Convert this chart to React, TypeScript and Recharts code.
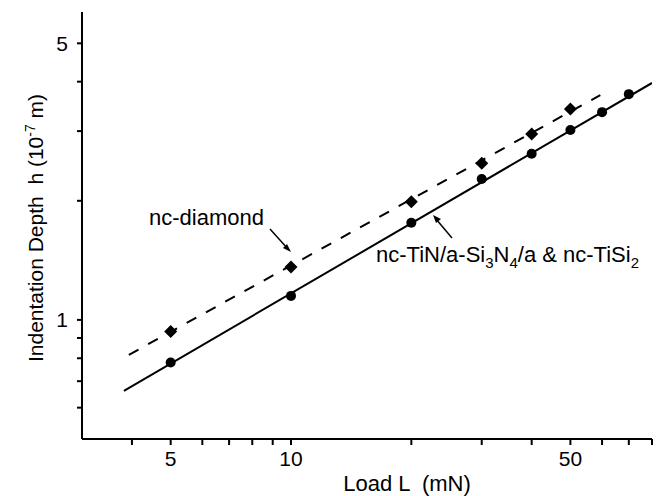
import React from 'react';
import { ComposedChart, Line, Scatter, XAxis, YAxis } from 'recharts';

// measured loads (mN) and indentation depths (10^-7 m)
const tinLoads = [5, 10, 20, 30, 40, 50, 60, 70];
const tinDepths = [0.78, 1.15, 1.76, 2.27, 2.63, 3.02, 3.35, 3.72];
const diamondLoads = [5, 10, 20, 30, 40, 50];
const diamondDepths = [0.934, 1.36, 1.99, 2.49, 2.95, 3.41];

// end points of the fitted power-law lines
const tinFitLoads = [3.82, 80];
const tinFitDepths = [0.662, 3.97];
const diamondFitLoads = [3.93, 59.4];
const diamondFitDepths = [0.816, 3.7];

const xTicks = [4, 5, 6, 7, 8, 9, 10, 20, 30, 40, 50, 60, 70, 80];
const xLabelled = [5, 10, 50];
const yTicks = [0.6, 0.7, 0.8, 0.9, 1, 2, 3, 4, 5];
const yLabelled = [1, 5];

const FONT = '"Liberation Sans", Arial, sans-serif';

const zip = (xs: number[], ys: number[]) => xs.map((x, i) => ({ x, y: ys[i] }));

const tinPoints = zip(tinLoads, tinDepths);
const diamondPoints = zip(diamondLoads, diamondDepths);
const tinFit = zip(tinFitLoads, tinFitDepths);
const diamondFit = zip(diamondFitLoads, diamondFitDepths);

const Dot = (p: any) => <circle cx={p.cx} cy={p.cy} r={5} fill="#000" />;
const Diamond = (p: any) => {
  const s = 6.5;
  return (
    <polygon
      points={`${p.cx},${p.cy - s} ${p.cx + s},${p.cy} ${p.cx},${p.cy + s} ${p.cx - s},${p.cy}`}
      fill="#000"
    />
  );
};

const axisLine = { stroke: '#000', strokeWidth: 2 };
const tickStyle = { fill: '#000', fontSize: 21, fontFamily: FONT };

export default function App() {
  return (
    <div style={{ position: 'absolute', left: 0, top: 0, width: 657, height: 496, background: '#fff' }}>
      <ComposedChart width={657} height={496} margin={{ top: 12, right: 5, bottom: 0, left: 0 }}>
        <XAxis
          dataKey="x"
          type="number"
          scale="log"
          domain={[3, 80]}
          allowDataOverflow
          ticks={xTicks}
          interval={0}
          height={57}
          tickSize={6}
          tickMargin={6}
          tickFormatter={(v: number) => (xLabelled.includes(v) ? String(v) : '')}
          axisLine={axisLine}
          tickLine={axisLine}
          tick={tickStyle}
        />
        <YAxis
          dataKey="y"
          type="number"
          scale="log"
          domain={[0.5, 6]}
          allowDataOverflow
          ticks={yTicks}
          interval={0}
          width={82}
          tickSize={5}
          tickMargin={9}
          tickFormatter={(v: number) => (yLabelled.includes(v) ? String(v) : '')}
          axisLine={axisLine}
          tickLine={axisLine}
          tick={tickStyle}
        />
        <Line data={tinFit} dataKey="y" stroke="#000" strokeWidth={2} dot={false} isAnimationActive={false} />
        <Line
          data={diamondFit}
          dataKey="y"
          stroke="#000"
          strokeWidth={2}
          strokeDasharray="11 11"
          dot={false}
          isAnimationActive={false}
        />
        <Scatter data={tinPoints} dataKey="y" shape={Dot} isAnimationActive={false} />
        <Scatter data={diamondPoints} dataKey="y" shape={Diamond} isAnimationActive={false} />
      </ComposedChart>

      <svg
        width={657}
        height={496}
        style={{ position: 'absolute', left: 0, top: 0, pointerEvents: 'none' }}
        fontFamily={FONT}
        fill="#000"
      >
        <text x={407} y={491} fontSize={22} textAnchor="middle" xmlSpace="preserve">
          Load L  (mN)
        </text>
        <text x={43} y={228} fontSize={21} textAnchor="middle" transform="rotate(-90 43 228)" xmlSpace="preserve">
          Indentation Depth  h (10<tspan fontSize={14} dy={-8}>-7</tspan>
          <tspan dy={8}> m)</tspan>
        </text>

        <text x={149} y={225} fontSize={22}>nc-diamond</text>
        <line x1={270} y1={229} x2={288} y2={249} stroke="#000" strokeWidth={1.5} />
        <polygon points="291,252 283,248 287,244" fill="#000" />

        <text x={376} y={262} fontSize={22} xmlSpace="preserve">
          nc-TiN/a-Si<tspan fontSize={15} dy={6}>3</tspan>
          <tspan dy={-6}>N</tspan>
          <tspan fontSize={15} dy={6}>4</tspan>
          <tspan dy={-6}>/a &amp; nc-TiSi</tspan>
          <tspan fontSize={15} dy={6}>2</tspan>
        </text>
        <line x1={452} y1={238} x2={436} y2={219} stroke="#000" strokeWidth={1.5} />
        <polygon points="433,215 441,219 436,223" fill="#000" />
      </svg>
    </div>
  );
}
